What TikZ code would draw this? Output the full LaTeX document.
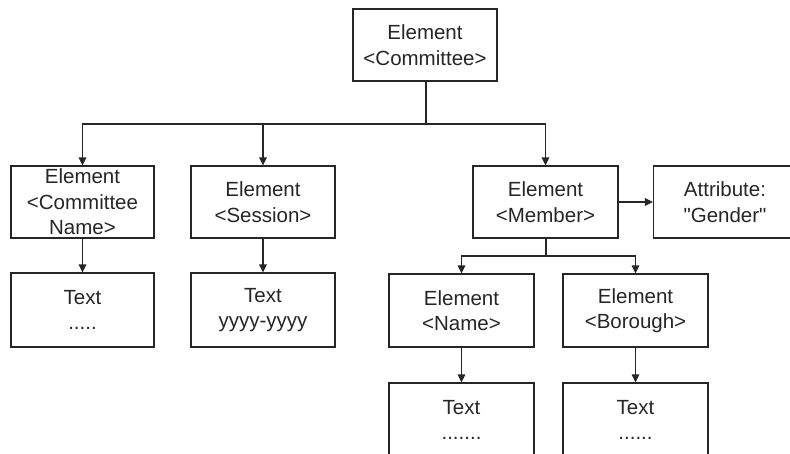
\documentclass[tikz,border=0pt]{standalone}
\usepackage{fontspec}
\newfontfamily\libsans{Liberation Sans}
\usetikzlibrary{arrows.meta}
\begin{document}
\begin{tikzpicture}[x=1pt,y=-1pt,
  box/.style={draw=black!85,line width=1.1pt,rectangle,minimum width=143pt,minimum height=72pt,
    align=center,inner sep=0pt,font=\libsans\fontsize{20.5}{25.5}\selectfont,text=black!85},
  conn/.style={draw=black!85,line width=1.1pt},
  arr/.style={conn,-{Triangle[length=8pt,width=7.5pt]}}]
\clip (0,0) rectangle (790,453);
\useasboundingbox (0,0) rectangle (790,453);
\node[box,minimum width=144pt] (committee) at (425,45) {Element\\<Committee>};
\node[box] (cname) at (82.5,202) {Element\\<Committee\\Name>};
\node[box,minimum width=144pt] (session) at (263,202) {Element\\<Session>};
\node[box,minimum width=145pt] (member) at (545.5,202) {Element\\<Member>};
\node[box] (attr) at (725,202) {Attribute:\\"Gender"};
\node[box,minimum height=74pt] (t1) at (82.5,310) {Text\\.....};
\node[box,minimum width=144pt,minimum height=74pt] (t2) at (263,310) {Text\\yyyy-yyyy};
\node[box,minimum width=145pt,minimum height=73pt] (name) at (461.5,310.5) {Element\\<Name>};
\node[box,minimum width=145pt,minimum height=73pt] (borough) at (635.5,310.5) {Element\\<Borough>};
\node[box,minimum width=145pt,minimum height=74pt] (tn) at (461.5,420) {Text\\.......};
\node[box,minimum width=145pt,minimum height=74pt] (tb) at (635.5,420) {Text\\......};
\coordinate (bus) at (426,124);
\coordinate (mbus) at (546,256);
\draw[conn] (committee.south -| bus) -- (bus);
\draw[arr] (bus) -| (cname.north);
\draw[arr] (bus) -| (session.north);
\draw[arr] (bus) -| (member.north);
\draw[arr] (member.east) -- (attr.west);
\draw[arr] (cname.south) -- (t1.north);
\draw[arr] (session.south) -- (t2.north);
\draw[conn] (member.south -| mbus) -- (mbus);
\draw[arr] (mbus) -| (name.north);
\draw[arr] (mbus) -| (borough.north);
\draw[arr] (name.south) -- (tn.north);
\draw[arr] (borough.south) -- (tb.north);
\end{tikzpicture}
\end{document}
